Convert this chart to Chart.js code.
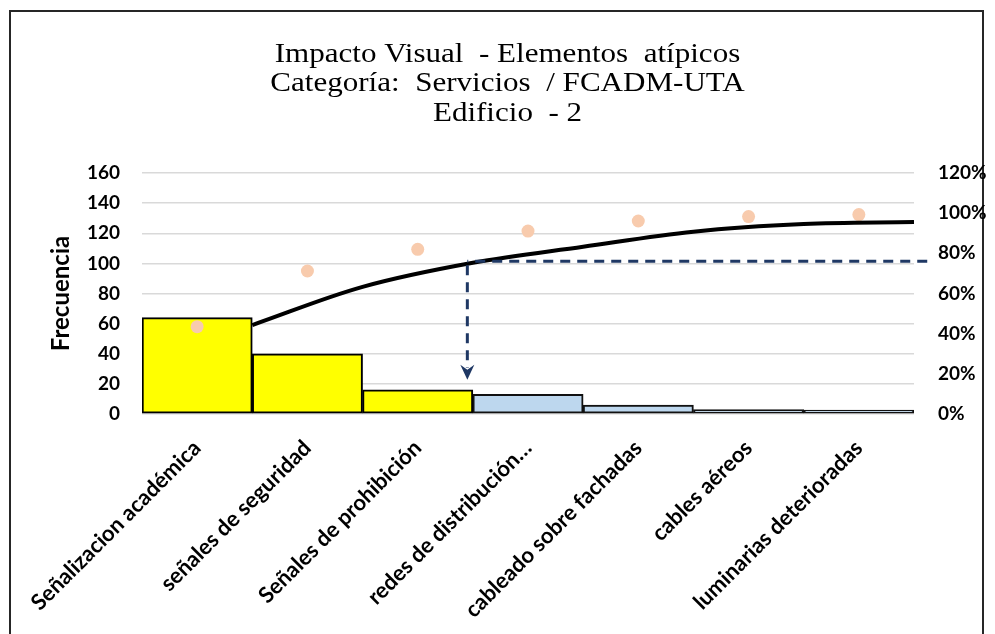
<!DOCTYPE html>
<html>
<head>
<meta charset="utf-8">
<script src="https://cdn.jsdelivr.net/npm/chart.js@4.4.1/dist/chart.umd.min.js"></script>
<style>
  html, body { margin: 0; padding: 0; background: #ffffff; }
  #wrap { position: relative; width: 995px; height: 634px; overflow: hidden; }
  #frame { position: absolute; left: 9px; top: 10px; width: 975px; height: 700px; border: 2px solid #262626; box-sizing: border-box; }
  #c { position: absolute; left: 0; top: 0; }
</style>
</head>
<body>
<div id="wrap">
  <div id="frame"></div>
  <canvas id="c" width="995" height="634"></canvas>
</div>
<script>
// ---- data ----
const categories = [
  'Señalizacion académica',
  'señales de seguridad',
  'Señales de prohibición',
  'redes de distribución…',
  'cableado sobre fachadas',
  'cables aéreos',
  'luminarias deterioradas'
];
const frequencies = [64, 40, 16, 13, 6, 3, 1];          // bars, left axis
const cumulativeLine = [44.3, 63.3, 75.3, 83.3, 90.8, 94.6, 95.6]; // black line, % (at category boundaries)
const cumulativeDots = [43.5, 71.2, 82.0, 91.1, 96.1, 98.3, 99.3]; // peach dots, %
const leftTicks = [0, 20, 40, 60, 80, 100, 120, 140, 160];
const rightTicks = [0, 20, 40, 60, 80, 100, 120];
const titleLines = ['Impacto Visual  - Elementos  atípicos', 'Categoría:  Servicios  / FCADM-UTA', 'Edificio  - 2'];
const vitalFew = 3;           // number of highlighted categories
const cutLevelPct = 76;       // level of the dashed 80/20 guide
const cutPosition = 2.45;     // on boundary axis (between category 3 and 4)
const arrowTipPct = 17;
const guideEndPosition = 6.62;

const NAVY = '#1F3864';

const titlePlugin = {
  id: 'stretchedTitle',
  afterDraw(chart) {
    const ctx = chart.ctx;
    const cx = chart.width / 2 + 10;
    ctx.save();
    ctx.fillStyle = '#000000';
    ctx.font = '27px "Liberation Serif"';
    ctx.textAlign = 'center';
    ctx.textBaseline = 'alphabetic';
    titleLines.forEach((t, i) => {
      ctx.save();
      ctx.translate(cx, 62 + i * 29.4);
      ctx.scale(1.15, 1);
      ctx.fillText(t, 0, 0);
      ctx.restore();
    });
    ctx.restore();
  }
};

const guidePlugin = {
  id: 'paretoGuide',
  afterDatasetsDraw(chart) {
    const xs = chart.scales.xLine, ys = chart.scales.yPct;
    const ctx = chart.ctx;
    const x0 = xs.getPixelForValue(cutPosition);
    const x1 = xs.getPixelForValue(guideEndPosition);
    const yL = ys.getPixelForValue(cutLevelPct);
    const yTip = ys.getPixelForValue(arrowTipPct);
    ctx.save();
    ctx.strokeStyle = NAVY;
    ctx.lineWidth = 3;
    ctx.setLineDash([10, 7]);
    ctx.beginPath();
    ctx.moveTo(x1, yL);
    ctx.lineTo(x0, yL);
    ctx.stroke();
    ctx.beginPath();
    ctx.moveTo(x0, yL + 4);
    ctx.lineTo(x0, yTip - 12);
    ctx.stroke();
    ctx.setLineDash([]);
    ctx.fillStyle = NAVY;
    ctx.beginPath();
    ctx.moveTo(x0, yTip);
    ctx.lineTo(x0 - 7, yTip - 15);
    ctx.lineTo(x0, yTip - 10);
    ctx.lineTo(x0 + 7, yTip - 15);
    ctx.closePath();
    ctx.fill();
    ctx.restore();
  }
};

const tickFont = { family: 'Lato', size: 19, weight: 'bold' };

new Chart(document.getElementById('c'), {
  type: 'bar',
  data: {
    labels: categories,
    datasets: [
      {
        type: 'line',
        label: 'Acumulado',
        data: cumulativeLine.map((v, i) => ({ x: i + 0.5, y: v })),
        xAxisID: 'xLine',
        yAxisID: 'yPct',
        borderColor: '#000000',
        borderWidth: 4,
        pointRadius: 0,
        tension: 0.35,
        fill: false,
        order: 0
      },
      {
        type: 'line',
        label: '% acumulado',
        data: cumulativeDots,
        xAxisID: 'x',
        yAxisID: 'yPct',
        showLine: false,
        pointRadius: 6.5,
        pointBackgroundColor: '#F8CBAD',
        pointBorderWidth: 0,
        pointBorderColor: '#F8CBAD',
        order: 1
      },
      {
        type: 'bar',
        label: 'Frecuencia',
        data: frequencies,
        xAxisID: 'x',
        yAxisID: 'y',
        grouped: false,
        minBarLength: 4,
        backgroundColor: (c) => c.dataIndex < vitalFew ? '#FFFF00' : '#BDD7EE',
        borderColor: (c) => c.dataIndex < vitalFew ? '#000000' : '#111111',
        borderWidth: 2,
        borderSkipped: false,
        categoryPercentage: 1,
        barPercentage: 1,
        order: 2
      }
    ]
  },
  options: {
    responsive: false,
    animation: false,
    devicePixelRatio: 1,
    layout: { padding: { left: 20, right: 1, top: 173, bottom: 0 } },
    plugins: {
      legend: { display: false },
      tooltip: { enabled: false },
      title: { display: false }
    },
    scales: {
      x: {
        type: 'category',
        offset: true,
        grid: { display: false },
        border: { display: false },
        ticks: {
          color: '#000000',
          font: { family: 'Lato', size: 22, weight: 'bold' },
          minRotation: 45,
          maxRotation: 45,
          autoSkip: false,
          padding: 13
        },
        afterFit(s) { s.height = 220; }
      },
      xLine: {
        type: 'linear',
        display: false,
        offset: false,
        bounds: 'data',
        min: -0.5,
        max: 6.5
      },
      y: {
        position: 'left',
        min: 0,
        max: 160,
        afterBuildTicks(s) { s.ticks = leftTicks.map(v => ({ value: v })); },
        grid: { color: '#D9D9D9', lineWidth: 1.5, drawTicks: false },
        border: { display: false },
        ticks: { color: '#000000', font: tickFont, padding: 22 },
        title: {
          display: true,
          text: 'Frecuencia',
          color: '#000000',
          font: { family: 'Lato', size: 24, weight: 'bold', lineHeight: 1.2 },
          padding: { top: 27, bottom: 0 }
        },
        afterFit(s) { s.width = 122; }
      },
      yPct: {
        position: 'right',
        min: 0,
        max: 120,
        afterBuildTicks(s) { s.ticks = rightTicks.map(v => ({ value: v })); },
        grid: { display: false, drawTicks: false },
        border: { display: false },
        ticks: { color: '#000000', font: tickFont, padding: 24, callback: (v) => v + '%' },
        afterFit(s) { s.width = 80; }
      }
    }
  },
  plugins: [guidePlugin, titlePlugin]
});
</script>
</body>
</html>
